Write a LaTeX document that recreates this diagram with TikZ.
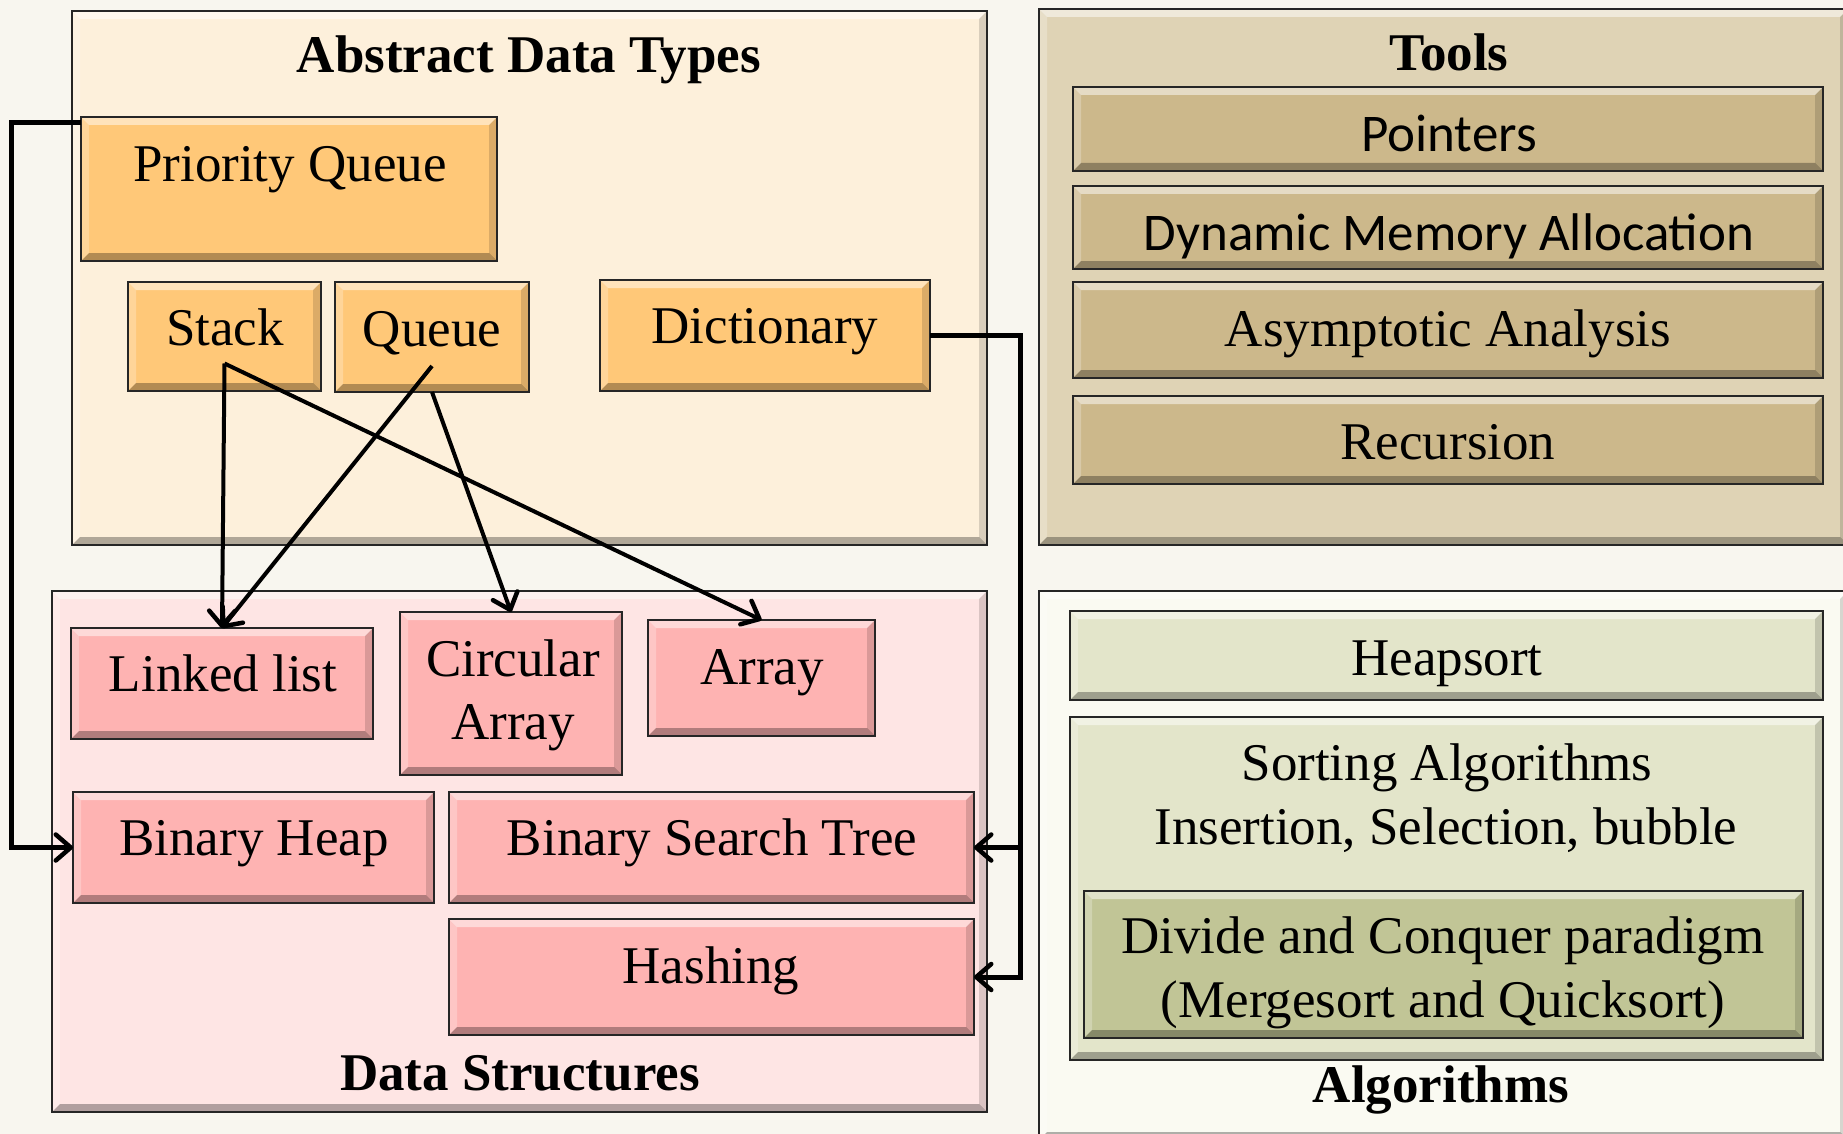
\documentclass[tikz,border=0pt]{standalone}
\usepackage{fontspec}
\setmainfont{Liberation Serif}
\newfontfamily\calibri{Carlito}
\usetikzlibrary{arrows.meta}
\definecolor{bg}{HTML}{F8F6EF}
\definecolor{adtbg}{HTML}{FDF0DB}
\definecolor{adtnode}{HTML}{FFC878}
\definecolor{dsbg}{HTML}{FEE5E4}
\definecolor{dsnode}{HTML}{FEB3B2}
\definecolor{toolbg}{HTML}{DFD3B5}
\definecolor{toolnode}{HTML}{CCB88B}
\definecolor{algbg}{HTML}{FAFAF2}
\definecolor{algnode}{HTML}{E3E5CA}
\definecolor{divnode}{HTML}{C1C596}
\definecolor{edgec}{HTML}{262626}
\tikzset{
  bevel/.style={path picture={
    \fill[white,opacity=.5] (path picture bounding box.north west) -- (path picture bounding box.north east) -- ([xshift=-8pt,yshift=-8pt]path picture bounding box.north east) -- ([xshift=8pt,yshift=-8pt]path picture bounding box.north west) -- cycle;
    \fill[white,opacity=.25] (path picture bounding box.north west) -- ([xshift=8pt,yshift=-8pt]path picture bounding box.north west) -- ([xshift=8pt,yshift=8pt]path picture bounding box.south west) -- (path picture bounding box.south west) -- cycle;
    \fill[black,opacity=.14] (path picture bounding box.north east) -- ([xshift=-8pt,yshift=-8pt]path picture bounding box.north east) -- ([xshift=-8pt,yshift=8pt]path picture bounding box.south east) -- (path picture bounding box.south east) -- cycle;
    \fill[black,opacity=.3] (path picture bounding box.south west) -- ([xshift=8pt,yshift=8pt]path picture bounding box.south west) -- ([xshift=-8pt,yshift=8pt]path picture bounding box.south east) -- (path picture bounding box.south east) -- cycle;
  }},
  box/.style={draw=edgec, line width=2.8pt, inner sep=0pt, outer sep=0pt, bevel},
  outerbox/.style={box},
  txt/.style={anchor=base, inner sep=0pt, font=\fontsize{53}{60}\selectfont},
  ctxt/.style={txt, font=\fontsize{53}{60}\selectfont\calibri},
  ttl/.style={txt, font=\fontsize{53}{60}\selectfont\bfseries},
  arr/.style={line width=4pt, -{Straight Barb[length=15pt,width=26pt,line width=4.5pt,round]}},
  conn/.style={line width=5pt, -{Straight Barb[length=15pt,width=26pt,line width=4.5pt,round]}},
}
\begin{document}
\begin{tikzpicture}[x=1pt,y=-1pt]
\clip (0,0) rectangle (1843,1134);
\fill[bg] (0,0) rectangle (1843,1134);

% outer panels
\node[outerbox, fill=adtbg, minimum width=915, minimum height=534] (adt) at (529.5,278) {};
\node[outerbox, fill=dsbg, minimum width=935, minimum height=521] (ds) at (519.5,851.5) {};
\node[outerbox, fill=toolbg, minimum width=809, minimum height=536] (tools) at (1443.5,277) {};
\node[outerbox, fill=algbg, minimum width=809, minimum height=549] (alg) at (1443.5,865.5) {};

% ADT
\node[ttl] (adtt) at (529,73) {Abstract Data Types};
\node[box, fill=adtnode, minimum width=416, minimum height=144] (pq) at (289,189) {};
\node[txt] (pqt) at (290,182) {Priority Queue};
\node[box, fill=adtnode, minimum width=193, minimum height=109] (st) at (224.5,336.5) {};
\node[txt] (stt) at (225,345) {Stack};
\node[box, fill=adtnode, minimum width=194, minimum height=110] (qu) at (432,337) {};
\node[txt] (qut) at (432,346) {Queue};
\node[box, fill=adtnode, minimum width=330, minimum height=111] (dict) at (765,335.5) {};
\node[txt] (dictt) at (765,343) {Dictionary};

% Data structures
\node[box, fill=dsnode, minimum width=302, minimum height=111] (ll) at (222,683.5) {};
\node[txt] (llt) at (223,691) {Linked list};
\node[box, fill=dsnode, minimum width=222, minimum height=163] (ca) at (511,693.5) {};
\node[txt] (cat1) at (513,676) {Circular};
\node[txt] (cat2) at (513,739) {Array};
\node[box, fill=dsnode, minimum width=227, minimum height=116] (ar) at (761.5,678) {};
\node[txt] (art) at (762,684) {Array};
\node[box, fill=dsnode, minimum width=361, minimum height=111] (bh) at (253.5,847.5) {};
\node[txt] (bht) at (254,855) {Binary Heap};
\node[box, fill=dsnode, minimum width=525, minimum height=111] (bst) at (711.5,847.5) {};
\node[txt] (bstt) at (712,855) {Binary Search Tree};
\node[box, fill=dsnode, minimum width=525, minimum height=116] (hash) at (711.5,977) {};
\node[txt] (hasht) at (711,983) {Hashing};
\node[ttl] (dst) at (520,1090) {Data Structures};

% Tools
\node[ttl] (toolst) at (1449,71) {Tools};
\node[box, fill=toolnode, minimum width=750, minimum height=84] (ptr) at (1448,129) {};
\node[ctxt] (ptrt) at (1449,152) {Pointers};
\node[box, fill=toolnode, minimum width=750, minimum height=83] (dma) at (1448,227.5) {};
\node[ctxt] (dmat) at (1449,250) {Dynamic Memory Allocation};
\node[box, fill=toolnode, minimum width=750, minimum height=96] (asy) at (1448,330) {};
\node[txt] (asyt) at (1448,346) {Asymptotic Analysis};
\node[box, fill=toolnode, minimum width=750, minimum height=88] (rec) at (1448,440) {};
\node[txt] (rect) at (1448,459) {Recursion};

% Algorithms
\node[box, fill=algnode, minimum width=753, minimum height=89] (heap) at (1446.5,655.5) {};
\node[txt] (heapt) at (1447,675) {Heapsort};
\node[box, fill=algnode, minimum width=753, minimum height=343] (sort) at (1446.5,888.5) {};
\node[txt] (sortt1) at (1447,780) {Sorting Algorithms};
\node[txt] (sortt2) at (1446,844) {Insertion, Selection, bubble};
\node[box, fill=divnode, minimum width=719, minimum height=147] (div) at (1443.5,964.5) {};
\node[txt] (divt1) at (1443,953) {Divide and Conquer paradigm};
\node[txt] (divt2) at (1443,1017) {(Mergesort and Quicksort)};
\node[ttl] (algt) at (1441,1102) {Algorithms};

% arrows
\draw[arr] ([yshift=-27pt]st.center) -- (ll.north);
\draw[arr] ([yshift=-27pt]st.center) -- (ar.north);
\draw[arr] ([yshift=-29pt]qu.center) -- (ll.north);
\draw[arr] (qu.south) -- (ca.north);

% elbow connectors
\coordinate (pqj) at (11,123);
\draw[conn] ([yshift=-6pt]pq.north west) -- (pqj) |- (bh.west);
\coordinate (dj) at (1020,335.5);
\draw[conn] (dict.east) -- (dj) |- (bst.east);
\draw[conn] (dj) |- (hash.east);
\end{tikzpicture}
\end{document}
